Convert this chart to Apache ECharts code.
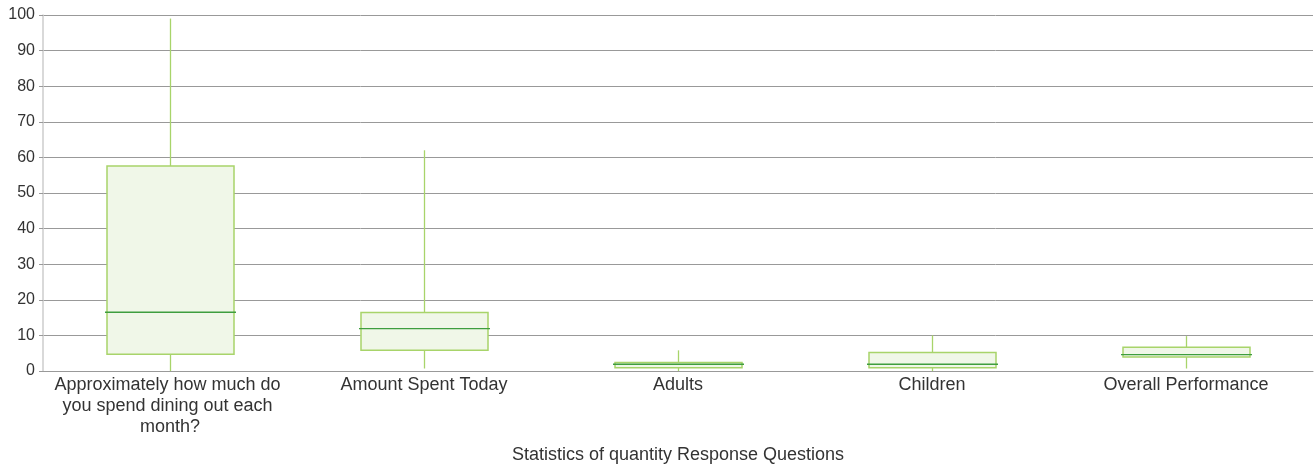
<!DOCTYPE html>
<html>
<head>
<meta charset="utf-8">
<script src="https://cdn.jsdelivr.net/npm/echarts@6/dist/echarts.min.js"></script>
<style>
  html, body { margin: 0; padding: 0; background: #fff; }
  #chart { width: 1316px; height: 467px; }
</style>
</head>
<body>
<div id="chart"></div>
<script>
// Questions shown along the x axis
const categories = [
  'Approximately how much do you spend dining out each month?',
  'Amount Spent Today',
  'Adults',
  'Children',
  'Overall Performance'
];
// Five-number summaries per question
const minValues    = [0,   0.7, 0,   0,   0.7];
const q1Values     = [4.7, 5.8, 0.9, 0.9, 3.9];
const medianValues = [16.5, 11.9, 1.9, 1.9, 4.6];
const q3Values     = [57.6, 16.4, 2.4, 5.2, 6.7];
const maxValues    = [99,  62,  5.8, 10,  9.8];
const yTicks = { min: 0, max: 100, interval: 10 };

const boxData = categories.map((c, i) =>
  [i, minValues[i], q1Values[i], medianValues[i], q3Values[i], maxValues[i]]);

const chart = echarts.init(document.getElementById('chart'), null, { renderer: 'canvas' });

// Box with plain whiskers (no end caps) and a median bar slightly wider than the box
function renderBox(params, api) {
  const i = api.value(0);
  const pMin = api.coord([i, api.value(1)]);
  const pQ1 = api.coord([i, api.value(2)]);
  const pMed = api.coord([i, api.value(3)]);
  const pQ3 = api.coord([i, api.value(4)]);
  const pMax = api.coord([i, api.value(5)]);
  const w = api.size([1, 0])[0] * 0.5;
  const x = Math.round(pQ1[0]) + 0.5;
  const left = x - w / 2;
  const whisker = { stroke: '#a8d46a', lineWidth: 1.3 };
  return {
    type: 'group',
    children: [
      { type: 'line', shape: { x1: x, y1: pMax[1], x2: x, y2: pQ3[1] }, style: whisker },
      { type: 'line', shape: { x1: x, y1: pQ1[1], x2: x, y2: pMin[1] }, style: whisker },
      { type: 'rect', shape: { x: left, y: pQ3[1], width: w, height: pQ1[1] - pQ3[1] },
        style: { fill: '#f0f7e8', stroke: '#a8d46a', lineWidth: 1.5 } },
      { type: 'line', shape: { x1: left - 2, y1: pMed[1], x2: left + w + 2, y2: pMed[1] },
        style: { stroke: '#3e9e3e', lineWidth: 1.3 } }
    ]
  };
}

chart.setOption({
  animation: false,
  textStyle: { fontFamily: 'Liberation Sans, Arial, sans-serif' },
  grid: { left: 43, right: 3, top: 15, bottom: 96, containLabel: false, outerBoundsMode: 'none' },
  xAxis: {
    type: 'category',
    data: categories,
    name: 'Statistics of quantity Response Questions',
    nameLocation: 'middle',
    nameGap: 75,
    nameTextStyle: { color: '#333', fontSize: 18, fontFamily: 'Liberation Sans' },
    axisLine: { lineStyle: { color: '#999', width: 1 } },
    axisTick: { show: false },
    splitLine: { show: false },
    axisLabel: {
      interval: 0,
      color: '#333',
      fontSize: 18,
      lineHeight: 21,
      margin: 4,
      width: 240,
      overflow: 'break',
      fontFamily: 'Liberation Sans'
    }
  },
  yAxis: {
    type: 'value',
    min: yTicks.min,
    max: yTicks.max,
    interval: yTicks.interval,
    axisLine: { show: true, lineStyle: { color: '#ccc', width: 1.5 } },
    axisTick: { show: true, length: 4, lineStyle: { color: '#999' } },
    splitLine: { lineStyle: { color: '#999', width: 1 } },
    axisLabel: { color: '#333', fontSize: 16, margin: 8, fontFamily: 'Liberation Sans' }
  },
  series: [{
    type: 'custom',
    renderItem: renderBox,
    encode: { x: 0, y: [1, 2, 3, 4, 5] },
    data: boxData,
    z: 3
  }]
});
</script>
</body>
</html>
